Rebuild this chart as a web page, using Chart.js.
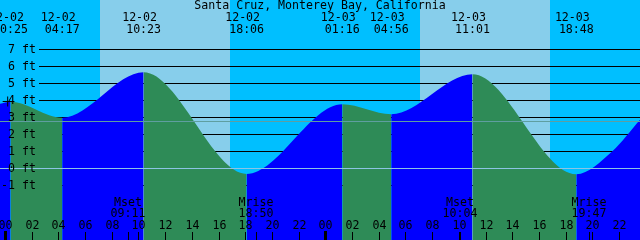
<!DOCTYPE html>
<html>
<head>
<meta charset="utf-8">
<script src="https://cdn.jsdelivr.net/npm/chart.js@4"></script>
<style>
  html, body { margin: 0; padding: 0; background: #00BFFF; }
  #wrap { width: 640px; height: 240px; }
</style>
</head>
<body>
<div id="wrap"><canvas id="tideChart" width="640" height="240"></canvas></div>
<script>
const stationName = 'Santa Cruz, Monterey Bay, California';

// high / low tides: day offset from 12-02, label date, clock time, height (ft)
const tideDays = [0, 0, 0, 0, 1, 1, 1, 1];
const tideDates = ['12-02', '12-02', '12-02', '12-02', '12-03', '12-03', '12-03', '12-03'];
const tideClock = ['00:25', '04:17', '10:23', '18:06', '01:16', '04:56', '11:01', '18:48'];
const tideFeet = [3.92, 2.98, 5.65, -0.33, 3.77, 3.18, 5.53, -0.35];

// where the curve meets the left / right edges (hours from 12-02 00:00)
const edgeHours = [-0.375, 45.5, 47.57];
const edgeFeet = [3.80, 1.00, 2.85];

// daylight, hours from 12-02 00:00
const sunriseHours = [7.12, 31.09];
const sunsetHours = [16.85, 40.82];

const moonNames = ['Mset', 'Mrise', 'Mset', 'Mrise'];
const moonDays = [0, 0, 1, 1];
const moonClock = ['09:11', '18:50', '10:04', '19:47'];

const footTicks = [-1, 0, 1, 2, 3, 4, 5, 6, 7];
const hourTicks = [0, 2, 4, 6, 8, 10, 12, 14, 16, 18, 20, 22, 24, 26, 28, 30, 32, 34, 36, 38, 40, 42, 44, 46];
const meanSeaLevel = 2.8;
const datumLevel = 0;
const nowHour = [0.2];
const nowFeet = [3.93];

const NIGHT = '#00BFFF', DAY = '#87CEEB', FLOOD = '#0000FF', EBB = '#2E8B57';
const FONT = '11.6px "DejaVu Sans Mono", "Liberation Mono", monospace';

function toHours(day, clock) {
  const [hh, mm] = clock.split(':').map(Number);
  return day * 24 + hh + mm / 60;
}

const tideHours = tideClock.map((c, i) => toHours(tideDays[i], c));
const curve = tideHours.map((h, i) => ({x: h, y: tideFeet[i]}))
  .concat(edgeHours.map((h, i) => ({x: h, y: edgeFeet[i]})))
  .sort((a, b) => a.x - b.x);

const tideArt = {
  id: 'tideArt',
  beforeDraw(chart) {
    const {ctx, width, height, scales: {x, y}} = chart;
    ctx.save();
    ctx.fillStyle = NIGHT;
    ctx.fillRect(0, 0, width, height);
    ctx.fillStyle = DAY;
    sunriseHours.forEach((h, i) => {
      const x0 = Math.round(x.getPixelForValue(h));
      const x1 = Math.round(x.getPixelForValue(sunsetHours[i]));
      ctx.fillRect(x0, 0, x1 - x0, height);
    });
    ctx.fillStyle = '#000';
    footTicks.forEach(f => {
      ctx.fillRect(39, Math.round(y.getPixelForValue(f)), width - 39, 1);
    });
    ctx.restore();
  },
  afterDatasetsDraw(chart) {
    const {ctx, width, height, scales: {x, y}} = chart;
    ctx.save();
    // datum and mean sea level
    ctx.fillStyle = '#5F9EA0';
    ctx.fillRect(0, Math.round(y.getPixelForValue(meanSeaLevel)), width, 1);
    ctx.fillStyle = '#8CC4E4';
    ctx.fillRect(0, Math.round(y.getPixelForValue(datumLevel)), width, 1);

    ctx.fillStyle = '#000';
    ctx.font = FONT;
    ctx.textBaseline = 'middle';

    // foot labels
    ctx.textAlign = 'right';
    footTicks.forEach(f => {
      ctx.fillText(f + ' ft', 36, Math.round(y.getPixelForValue(f)) + 1);
    });

    // title and tide events
    ctx.textAlign = 'center';
    ctx.fillText(stationName, 320, 6);
    tideHours.forEach((h, i) => {
      const px = x.getPixelForValue(h);
      ctx.fillText(tideDates[i], px - 4, 17.5);
      ctx.fillText(tideClock[i], px, 30);
    });

    // hour axis
    hourTicks.forEach(h => {
      const px = Math.round(x.getPixelForValue(h));
      if (h % 24 === 0) ctx.fillRect(px - 1, 231, 3, height - 231);
      else ctx.fillRect(px, 232, 1, height - 232);
      ctx.fillText(String(h % 24).padStart(2, '0'), px + 0.5, 225.5);
    });

    // moon events
    moonClock.forEach((c, i) => {
      const px = Math.round(x.getPixelForValue(toHours(moonDays[i], c)));
      ctx.fillRect(px, 232, 1, height - 232);
      ctx.fillText(moonNames[i], px, 203);
      ctx.fillText(c, px, 213.5);
    });
    ctx.restore();
  }
};

new Chart(document.getElementById('tideChart').getContext('2d'), {
  type: 'line',
  data: {
    datasets: [{
      type: 'scatter',
      data: nowHour.map((h, i) => ({x: h, y: nowFeet[i]})),
      pointStyle: 'cross',
      pointRadius: 5,
      borderColor: '#000',
      borderWidth: 1,
      clip: false
    }, {
      data: curve,
      fill: 'start',
      borderWidth: 0,
      pointRadius: 0,
      cubicInterpolationMode: 'monotone',
      backgroundColor: FLOOD,
      segment: {
        backgroundColor: c => c.p1.parsed.y > c.p0.parsed.y ? FLOOD : EBB
      }
    }]
  },
  options: {
    responsive: false,
    animation: false,
    events: [],
    layout: { padding: 0, autoPadding: false },
    plugins: { legend: { display: false }, tooltip: { enabled: false } },
    scales: {
      x: { type: 'linear', min: -0.375, max: 47.57, display: false },
      y: { min: -4.218, max: 9.9, display: false }
    }
  },
  plugins: [tideArt]
});
</script>
</body>
</html>
